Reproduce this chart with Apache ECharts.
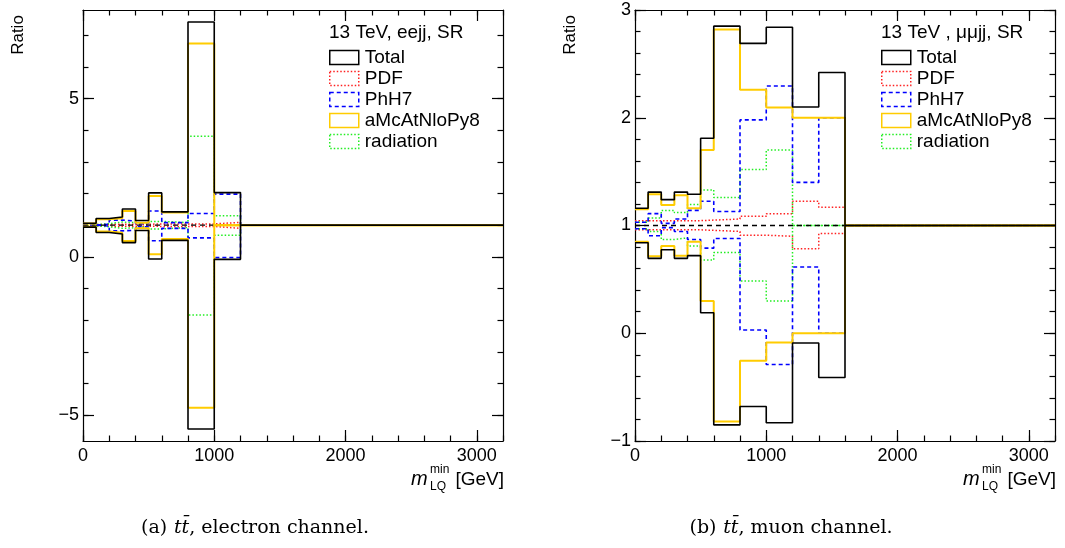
<!DOCTYPE html>
<html>
<head>
<meta charset="utf-8">
<script src="https://cdn.jsdelivr.net/npm/echarts@6/dist/echarts.min.js"></script>
<style>html,body{margin:0;padding:0;background:#fff}#c{width:1065px;height:548px}</style>
</head>
<body>
<div id="c"></div>
<script>
// ---------- data ----------
const xMax = 3200;
const xTickMajor = [0, 1000, 2000, 3000];
const xTickMinor = [0,200,400,600,800,1000,1200,1400,1600,1800,2000,2200,2400,2600,2800,3000,3200];

// electron channel
const eEdges = [0, 100, 200, 300, 400, 500, 600, 800, 1000, 1200];
const eTotalUp = [1.06, 1.21, 1.26, 1.51, 1.15, 2.02, 1.42, 7.42, 2.03];
const eTotalDn = [0.94, 0.77, 0.72, 0.45, 0.83, -0.07, 0.52, -5.44, -0.08];
const eAmcUp   = [1.05, 1.19, 1.22, 1.45, 1.08, 1.92, 1.40, 6.74, 1.00];
const eAmcDn   = [0.95, 0.80, 0.76, 0.50, 0.90, 0.08, 0.56, -4.77, 1.00];
const ePhUp    = [1.00, 1.03, 1.16, 1.13, 1.05, 1.45, 1.08, 1.37, 1.98];
const ePhDn    = [1.00, 0.97, 0.82, 0.84, 0.95, 0.51, 0.90, 0.60, -0.02];
const eRadUp   = [1.02, 1.05, 1.10, 1.08, 1.05, 1.12, 1.08, 3.81, 1.30];
const eRadDn   = [0.98, 0.95, 0.90, 0.92, 0.95, 0.88, 0.93, -1.84, 0.68];
const ePdfUp   = [1.02, 1.03, 1.03, 1.03, 1.03, 1.04, 1.04, 1.04, 1.09];
const ePdfDn   = [0.98, 0.97, 0.97, 0.97, 0.97, 0.96, 0.96, 0.96, 0.90];
const eYMin = -5.82, eYMax = 7.8;
const eYMajor = [-5, 0, 5];
const eYMinor = [-5,-4,-3,-2,-1,0,1,2,3,4,5,6,7];

// muon channel
const mEdges = [0, 100, 200, 300, 400, 500, 600, 800, 1000, 1200, 1400, 1600];
const mTotalUp = [1.16, 1.31, 1.24, 1.31, 1.29, 1.81, 2.85, 2.69, 2.84, 2.10, 2.42];
const mTotalDn = [0.84, 0.695, 0.775, 0.695, 0.72, 0.19, -0.85, -0.68, -0.83, -0.09, -0.41];
const mAmcUp   = [1.15, 1.29, 1.19, 1.28, 1.16, 1.70, 2.82, 2.26, 2.095, 2.00, 2.00];
const mAmcDn   = [0.85, 0.715, 0.81, 0.72, 0.85, 0.30, -0.82, -0.255, -0.085, 0.00, 0.00];
const mPhUp    = [1.03, 1.11, 1.02, 1.06, 1.14, 1.225, 1.13, 1.98, 2.295, 1.40, 2.00];
const mPhDn    = [0.97, 0.905, 0.98, 0.945, 0.87, 0.79, 0.88, 0.03, -0.29, 0.615, 0.00];
const mRadUp   = [1.03, 1.07, 1.14, 1.12, 1.195, 1.33, 1.26, 1.52, 1.70, 1.00, 1.00];
const mRadDn   = [0.97, 0.945, 0.87, 0.885, 0.81, 0.68, 0.75, 0.485, 0.30, 1.00, 1.00];
const mPdfUp   = [1.045, 1.045, 1.045, 1.045, 1.045, 1.05, 1.06, 1.085, 1.11, 1.225, 1.17];
const mPdfDn   = [0.96, 0.96, 0.96, 0.96, 0.96, 0.955, 0.945, 0.91, 0.90, 0.785, 0.925];
const mYMin = -1, mYMax = 3;
const mYMajor = [-1, 0, 1, 2, 3];
const mYMinor = [-1,-0.8,-0.6,-0.4,-0.2,0,0.2,0.4,0.6,0.8,1,1.2,1.4,1.6,1.8,2,2.2,2.4,2.6,2.8,3];

const nominal = 1;
const legendNames = ['Total', 'PDF', 'PhH7', 'aMcAtNloPy8', 'radiation'];
const headers = ['13 TeV, eejj, SR', '13 TeV , \u03bc\u03bcjj, SR'];

// ---------- styles ----------
const FONT = 'Liberation Sans';
const sty = {
  'Total':       {color: '#000000', type: 'solid', width: 1.6, z: 10},
  'PDF':         {color: '#ff2020', type: [1.5, 2], width: 1.5, z: 4},
  'PhH7':        {color: '#0000ff', type: [4, 3], width: 1.6, z: 6},
  'aMcAtNloPy8': {color: '#ffcc00', type: 'solid', width: 2, z: 8},
  'radiation':   {color: '#22ee22', type: [1.5, 2], width: 1.5, z: 5}
};

function steps(edges, vals) {
  const d = vals.map((v, i) => [edges[i], v]);
  d.push([edges[vals.length], nominal]);
  d.push([xMax, nominal]);
  return d;
}

const grids = [
  {left: 83, top: 10, width: 420, height: 431},
  {left: 635, top: 10, width: 420, height: 431}
];

const xAxes = [], yAxes = [];
function fmt(v) { return String(v).replace('-', '\u2212'); }
[0, 1].forEach(g => {
  const yMin = g === 0 ? eYMin : mYMin, yMax = g === 0 ? eYMax : mYMax;
  const yMaj = g === 0 ? eYMajor : mYMajor, yMin2 = g === 0 ? eYMinor : mYMinor;
  const line = {show: true, onZero: false, lineStyle: {color: '#000', width: 1.2}};
  const noLine = {show: false, onZero: false};
  const tk = (len, vals) => ({show: true, inside: true, length: len, customValues: vals, lineStyle: {color: '#000', width: 1.2}});
  xAxes.push({gridIndex: g, type: 'value', min: 0, max: xMax, position: 'bottom',
    axisLine: line, splitLine: {show: false}, axisTick: tk(11, xTickMajor),
    axisLabel: {show: true, customValues: xTickMajor, margin: 6, fontFamily: FONT, fontSize: 18, color: '#000', formatter: fmt}});
  xAxes.push({gridIndex: g, type: 'value', min: 0, max: xMax, position: 'bottom',
    axisLine: noLine, splitLine: {show: false}, axisLabel: {show: false}, axisTick: tk(5.5, xTickMinor)});
  xAxes.push({gridIndex: g, type: 'value', min: 0, max: xMax, position: 'top',
    axisLine: line, splitLine: {show: false}, axisLabel: {show: false}, axisTick: tk(11, xTickMajor)});
  xAxes.push({gridIndex: g, type: 'value', min: 0, max: xMax, position: 'top',
    axisLine: noLine, splitLine: {show: false}, axisLabel: {show: false}, axisTick: tk(5.5, xTickMinor)});

  yAxes.push({gridIndex: g, type: 'value', min: yMin, max: yMax, position: 'left',
    axisLine: line, splitLine: {show: false}, axisTick: tk(11, yMaj),
    axisLabel: {show: true, customValues: yMaj, margin: 4, fontFamily: FONT, fontSize: 18, color: '#000', formatter: fmt}});
  yAxes.push({gridIndex: g, type: 'value', min: yMin, max: yMax, position: 'left',
    axisLine: noLine, splitLine: {show: false}, axisLabel: {show: false}, axisTick: tk(5.5, yMin2)});
  yAxes.push({gridIndex: g, type: 'value', min: yMin, max: yMax, position: 'right',
    axisLine: line, splitLine: {show: false}, axisLabel: {show: false}, axisTick: tk(11, yMaj)});
  yAxes.push({gridIndex: g, type: 'value', min: yMin, max: yMax, position: 'right',
    axisLine: noLine, splitLine: {show: false}, axisLabel: {show: false}, axisTick: tk(5.5, yMin2)});
});

const series = [];
function addPair(g, name, up, dn, edges) {
  const s = sty[name];
  [up, dn].forEach(vals => {
    series.push({
      type: 'line', name: name, step: 'end', xAxisIndex: g * 4, yAxisIndex: g * 4,
      data: steps(edges, vals), showSymbol: false, symbol: 'none', silent: true,
      lineStyle: {color: s.color, type: s.type, width: s.width}, itemStyle: {color: s.color},
      z: s.z, animation: false
    });
  });
}
function addNominal(g, edges) {
  series.push({type: 'line', name: 'nominal', xAxisIndex: g * 4, yAxisIndex: g * 4,
    data: [[edges[0], nominal], [edges[edges.length - 1], nominal]], showSymbol: false, symbol: 'none',
    lineStyle: {color: '#000', type: [5, 4], width: 1.3}, z: 7, animation: false, silent: true});
}
addPair(0, 'PDF', ePdfUp, ePdfDn, eEdges);
addPair(0, 'radiation', eRadUp, eRadDn, eEdges);
addPair(0, 'PhH7', ePhUp, ePhDn, eEdges);
addNominal(0, eEdges);
addPair(0, 'aMcAtNloPy8', eAmcUp, eAmcDn, eEdges);
addPair(0, 'Total', eTotalUp, eTotalDn, eEdges);
addPair(1, 'PDF', mPdfUp, mPdfDn, mEdges);
addPair(1, 'radiation', mRadUp, mRadDn, mEdges);
addPair(1, 'PhH7', mPhUp, mPhDn, mEdges);
addNominal(1, mEdges);
addPair(1, 'aMcAtNloPy8', mAmcUp, mAmcDn, mEdges);
addPair(1, 'Total', mTotalUp, mTotalDn, mEdges);

const legendData = legendNames.map(n => ({
  name: n, icon: 'rect',
  itemStyle: {color: 'rgba(0,0,0,0)', borderColor: sty[n].color, borderWidth: 1.5,
    borderType: sty[n].type === 'solid' ? 'solid' : sty[n].type}
}));
const legends = [329, 881].map(l => ({
  left: l, top: 48, orient: 'vertical', padding: 0, itemGap: 2, itemWidth: 29, itemHeight: 14,
  selectedMode: false, data: legendData,
  textStyle: {fontFamily: FONT, fontSize: 19, color: '#000', lineHeight: 19, padding: [0, 0, 0, 1]}
}));

const graphics = [];
[0, 1].forEach(g => {
  const off = g * 552;
  graphics.push({type: 'text', x: 329 + off, y: 33, style: {text: headers[g], font: '19px ' + FONT, fill: '#000', textAlign: 'left', textVerticalAlign: 'middle'}});
  graphics.push({type: 'text', x: 18 + off, y: 35, rotation: Math.PI / 2, style: {text: 'Ratio', font: '17px ' + FONT, fill: '#000', textAlign: 'center', textVerticalAlign: 'middle'}});
  graphics.push({type: 'text', x: 504 + off, y: 489, style: {text: '[GeV]', font: '19px ' + FONT, fill: '#000', textAlign: 'right', textVerticalAlign: 'bottom'}});
  graphics.push({type: 'text', x: 411 + off, y: 489, style: {text: 'm', font: 'italic 20px ' + FONT, fill: '#000', textAlign: 'left', textVerticalAlign: 'bottom'}});
  graphics.push({type: 'text', x: 430 + off, y: 470, style: {text: 'min', font: '12px ' + FONT, fill: '#000', textAlign: 'left', textVerticalAlign: 'middle'}});
  graphics.push({type: 'text', x: 430 + off, y: 487, style: {text: 'LQ', font: '12px ' + FONT, fill: '#000', textAlign: 'left', textVerticalAlign: 'middle'}});
});
const captions = [['(a)', 'electron channel.'], ['(b)', 'muon channel.']];
[255, 791].forEach((cx, i) => {
  graphics.push({type: 'text', x: cx, y: 528, style: {
    text: '{n|' + captions[i][0] + '}  {i|tt\u0304}{n|, ' + captions[i][1] + '}',
    textAlign: 'center', textVerticalAlign: 'middle', fill: '#000',
    rich: {n: {fontFamily: 'DejaVu Serif', fontSize: 19, fill: '#000'},
           i: {fontFamily: 'DejaVu Serif', fontStyle: 'italic', fontSize: 19, fill: '#000'}}
  }});
});

const chart = echarts.init(document.getElementById('c'), null, {renderer: 'canvas'});
chart.setOption({
  animation: false,
  backgroundColor: '#fff',
  grid: grids,
  xAxis: xAxes,
  yAxis: yAxes,
  legend: legends,
  series: series,
  graphic: graphics
});
</script>
</body>
</html>
